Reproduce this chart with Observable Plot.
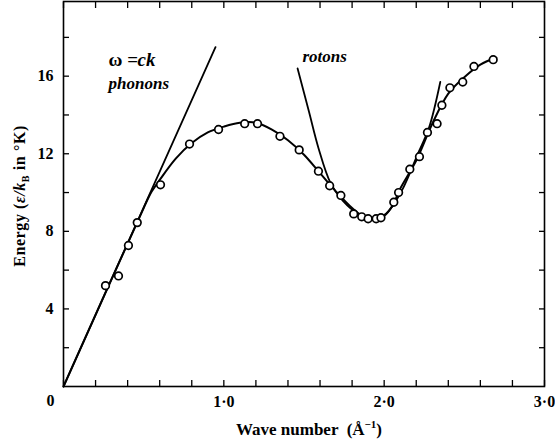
<!DOCTYPE html>
<html>
<head>
<meta charset="utf-8">
<script src="https://cdn.jsdelivr.net/npm/d3@7"></script>
<script src="https://cdn.jsdelivr.net/npm/@observablehq/plot@0.6"></script>
<style>
  html, body { margin: 0; padding: 0; background: #fff; }
  #chart svg { display: block; }
</style>
</head>
<body>
<div id="chart"></div>
<script>
// Measured dispersion points (wave number Å^-1, energy K)
const pointK = [0.262, 0.343, 0.405, 0.46, 0.605, 0.786, 0.967, 1.13, 1.21, 1.35, 1.47, 1.59, 1.66, 1.73, 1.81, 1.86, 1.90, 1.95, 1.98, 2.06, 2.09, 2.16, 2.22, 2.27, 2.33, 2.36, 2.41, 2.49, 2.56, 2.68];
const pointE = [5.2, 5.7, 7.27, 8.45, 10.4, 12.5, 13.25, 13.55, 13.55, 12.9, 12.2, 11.1, 10.35, 9.85, 8.9, 8.75, 8.65, 8.65, 8.7, 9.5, 10.0, 11.2, 11.85, 13.1, 13.55, 14.5, 15.4, 15.7, 16.5, 16.85];

// Smooth fitted curve
const curveK = [0, 0.5, 0.55, 0.6, 0.7, 0.8, 0.9, 1.0, 1.1, 1.2, 1.3, 1.4, 1.5, 1.6, 1.7, 1.8, 1.87, 1.93, 2.0, 2.05, 2.1, 2.2, 2.3, 2.4, 2.5, 2.6, 2.7];
const curveE = [0, 9.2, 10.05, 10.65, 11.75, 12.55, 13.1, 13.4, 13.6, 13.6, 13.25, 12.7, 11.95, 11.0, 10.05, 9.2, 8.75, 8.6, 8.8, 9.3, 10.2, 11.65, 13.55, 15.1, 15.95, 16.6, 16.95];

// Phonon line omega = ck
const phononK = [0, 0.948];
const phononE = [0, 17.5];

// Roton parabola
const rotonK = [1.46, 1.53, 1.59, 1.665, 1.74, 1.84, 1.93, 2.01, 2.11, 2.21, 2.28, 2.35];
const rotonE = [16.4, 14.2, 12.3, 10.5, 9.6, 8.9, 8.7, 8.9, 10.1, 12.0, 13.35, 15.7];

// Ticks and labels
const xMinorTicks = d3.range(0, 16).map(i => +(i * 0.2).toFixed(1));
const yMinorTicks = [2, 4, 6, 8, 10, 12, 14, 16, 18];
const xLabelTicks = [1, 2, 3];
const yLabelTicks = [4, 8, 12, 16];
const originLabel = [{k: 0, e: 0, text: "0"}];
const annotations = [
  {k: 0.281, e: 16.85, text: "ω =", italic: false},
  {k: 0.462, e: 16.85, text: "ck", italic: true},
  {k: 0.281, e: 15.6, text: "phonons", italic: true},
  {k: 1.49, e: 17.0, text: "rotons", italic: true}
];

const zip = (ks, es) => ks.map((k, i) => ({k, e: es[i]}));
const points = zip(pointK, pointE);
const curve = zip(curveK, curveE);
const phonon = zip(phononK, phononE);
const roton = zip(rotonK, rotonE);

const FONT = "'Liberation Serif', 'DejaVu Serif', serif";
const fmt = d => d.toFixed(1).replace(".", "·");

const svg = Plot.plot({
  width: 555,
  height: 441,
  marginLeft: 63,
  marginRight: 11,
  marginTop: 1,
  marginBottom: 55,
  style: {fontFamily: FONT, background: "#fff", color: "#000"},
  x: {domain: [0, 3]},
  y: {domain: [0, 19.85]},
  marks: [
    Plot.axisX({anchor: "bottom", ticks: xMinorTicks, tickSize: -6, tickFormat: () => "", label: null, strokeWidth: 1.3}),
    Plot.axisX({anchor: "top", ticks: xMinorTicks, tickSize: -6, tickFormat: () => "", label: null, strokeWidth: 1.3}),
    Plot.axisY({anchor: "left", ticks: yMinorTicks, tickSize: -6, tickFormat: () => "", label: null, strokeWidth: 1.3}),
    Plot.axisY({anchor: "right", ticks: yMinorTicks, tickSize: -6, tickFormat: () => "", label: null, strokeWidth: 1.3}),
    Plot.axisX({anchor: "bottom", ticks: xLabelTicks, tickSize: 0, tickPadding: 9, tickFormat: fmt, label: null, fontSize: 16, fontWeight: "bold", fontFamily: FONT}),
    Plot.axisY({anchor: "left", ticks: yLabelTicks, tickSize: 0, tickPadding: 10, label: null, fontSize: 16, fontWeight: "bold", fontFamily: FONT}),
    Plot.text(originLabel, {x: "k", y: "e", text: "text", dx: -13, dy: 14, fontSize: 16, fontWeight: "bold", fontFamily: FONT}),
    Plot.frame({stroke: "#000", strokeWidth: 1.6}),
    Plot.line(phonon, {x: "k", y: "e", stroke: "#000", strokeWidth: 1.8}),
    Plot.line(roton, {x: "k", y: "e", stroke: "#000", strokeWidth: 1.8, curve: "catmull-rom"}),
    Plot.line(curve, {x: "k", y: "e", stroke: "#000", strokeWidth: 2, curve: "catmull-rom"}),
    Plot.dot(points, {x: "k", y: "e", r: 3.8, stroke: "#000", fill: "#fff", strokeWidth: 1.7}),
    Plot.text(annotations.filter(d => !d.italic), {x: "k", y: "e", text: "text", textAnchor: "start", fontSize: 19, fontWeight: "bold", fontFamily: FONT}),
    Plot.text(annotations.filter(d => d.italic && d.text === "ck"), {x: "k", y: "e", text: "text", textAnchor: "start", fontSize: 19, fontWeight: "bold", fontStyle: "italic", fontFamily: FONT}),
    Plot.text(annotations.filter(d => d.italic && d.text !== "ck"), {x: "k", y: "e", text: "text", textAnchor: "start", fontSize: 17, fontWeight: "bold", fontStyle: "italic", fontFamily: FONT})
  ]
});

const s = d3.select(svg);
// x-axis title with superscript
const xt = s.append("text")
  .attr("x", 309).attr("y", 435)
  .attr("text-anchor", "middle")
  .attr("font-family", FONT).attr("font-size", 17).attr("font-weight", "bold");
xt.append("tspan").text("Wave number  (Å");
xt.append("tspan").attr("font-size", 11).attr("dy", -7).text("−1");
xt.append("tspan").attr("dy", 7).text(")");

// y-axis title with subscript
const yt = s.append("text")
  .attr("transform", "translate(25,196) rotate(-90)")
  .attr("text-anchor", "middle")
  .attr("font-family", FONT).attr("font-size", 16).attr("font-weight", "bold")
  .attr("letter-spacing", 0.6);
yt.append("tspan").text("Energy (");
yt.append("tspan").attr("font-style", "italic").text("ε/k");
yt.append("tspan").attr("font-size", 10).attr("dy", 4).text("B");
yt.append("tspan").attr("dy", -4).text(" in °K)");

document.getElementById("chart").appendChild(svg);
</script>
</body>
</html>
